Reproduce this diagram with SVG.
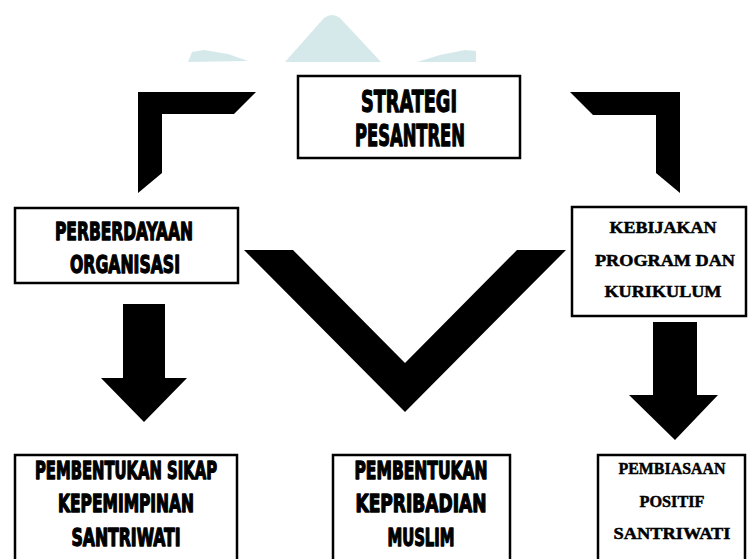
<svg xmlns="http://www.w3.org/2000/svg" width="748" height="559" viewBox="0 0 748 559">
<style>
.box{fill:#fff;stroke:#000;stroke-width:2.5}
.shape{fill:#000}
.wm{fill:#d6e9ea}
.cond{font-family:"DejaVu Sans Condensed","Liberation Sans Narrow","Liberation Sans",sans-serif;font-weight:bold;fill:#000;stroke:#000;stroke-width:1.3;stroke-linejoin:round}
.serif{font-family:"Liberation Serif","DejaVu Serif",serif;font-weight:bold;fill:#000;stroke:#000;stroke-width:0.5}
</style>
<rect width="748" height="559" fill="#fff"/>
<g id="watermark">
<path class="wm" d="M188,62 L192,52 L204,50 L228,54 L248,61 Z"/>
<path class="wm" d="M285,62 L324,18 Q332,12 340,18 L381,62 Z"/>
<path class="wm" d="M417,62 L440,55 L465,50 L476,51 L476,62 Z"/>
</g>
<g id="connectors">
<polygon class="shape" points="138,92 256,92 234,114 162,114 162,173 138,193"/>
<polygon class="shape" points="570,92 680,92 680,193 656,173 656,115 593,115"/>
<polygon class="shape" points="244,250 293,250 405,363 517,250 566,250 405,412"/>
<polygon class="shape" points="123,304 165,304 165,378 187,378 144,422 101,378 123,378"/>
<polygon class="shape" points="653,322 697,322 697,395 718,395 675,440 629,395 653,395"/>
</g>
<g id="strategi">
<rect class="box" x="298" y="76" width="222" height="82"/>
<text class="cond" x="409" y="112" font-size="31" text-anchor="middle" textLength="96" lengthAdjust="spacingAndGlyphs">STRATEGI</text>
<text class="cond" x="410" y="146" font-size="31" text-anchor="middle" textLength="110" lengthAdjust="spacingAndGlyphs">PESANTREN</text>
</g>
<g id="perberdayaan">
<rect class="box" x="15" y="208" width="223" height="75"/>
<text class="cond" x="124" y="240" font-size="25" text-anchor="middle" textLength="138" lengthAdjust="spacingAndGlyphs">PERBERDAYAAN</text>
<text class="cond" x="125" y="273" font-size="25" text-anchor="middle" textLength="110" lengthAdjust="spacingAndGlyphs">ORGANISASI</text>
</g>
<g id="kebijakan">
<rect class="box" x="572" y="207" width="174" height="109"/>
<text class="serif" x="663" y="233" font-size="17" text-anchor="middle" textLength="107" lengthAdjust="spacingAndGlyphs">KEBIJAKAN</text>
<text class="serif" x="665" y="266" font-size="17" text-anchor="middle" textLength="140" lengthAdjust="spacingAndGlyphs">PROGRAM DAN</text>
<text class="serif" x="663" y="297" font-size="17" text-anchor="middle" textLength="117" lengthAdjust="spacingAndGlyphs">KURIKULUM</text>
</g>
<g id="sikap">
<rect class="box" x="15" y="455" width="222" height="110"/>
<text class="cond" x="126" y="479" font-size="24" text-anchor="middle" textLength="182" lengthAdjust="spacingAndGlyphs">PEMBENTUKAN SIKAP</text>
<text class="cond" x="126" y="512" font-size="24" text-anchor="middle" textLength="136" lengthAdjust="spacingAndGlyphs">KEPEMIMPINAN</text>
<text class="cond" x="126" y="546" font-size="24" text-anchor="middle" textLength="109" lengthAdjust="spacingAndGlyphs">SANTRIWATI</text>
</g>
<g id="kepribadian">
<rect class="box" x="333" y="455" width="177" height="110"/>
<text class="cond" x="421" y="479" font-size="24" text-anchor="middle" textLength="133" lengthAdjust="spacingAndGlyphs">PEMBENTUKAN</text>
<text class="cond" x="421" y="512" font-size="24" text-anchor="middle" textLength="131" lengthAdjust="spacingAndGlyphs">KEPRIBADIAN</text>
<text class="cond" x="421" y="546" font-size="24" text-anchor="middle" textLength="67" lengthAdjust="spacingAndGlyphs">MUSLIM</text>
</g>
<g id="pembiasaan">
<rect class="box" x="598" y="455" width="147" height="110"/>
<text class="serif" x="672" y="474" font-size="17" text-anchor="middle" textLength="107" lengthAdjust="spacingAndGlyphs">PEMBIASAAN</text>
<text class="serif" x="672" y="507" font-size="17" text-anchor="middle" textLength="65" lengthAdjust="spacingAndGlyphs">POSITIF</text>
<text class="serif" x="672" y="539" font-size="17" text-anchor="middle" textLength="117" lengthAdjust="spacingAndGlyphs">SANTRIWATI</text>
</g>
</svg>
